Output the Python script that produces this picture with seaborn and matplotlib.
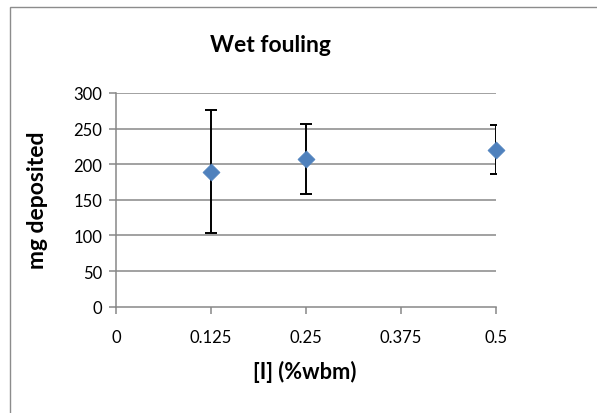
import matplotlib
matplotlib.use("Agg")
import matplotlib.pyplot as plt
import seaborn as sns
import pandas as pd
from matplotlib.patches import Rectangle

# Inhibitor concentration (%wbm), mean mass deposited (mg) and error half-width (mg)
concentration = [0.125, 0.25, 0.5]
mg_deposited = [189.5, 207.5, 220.5]
error = [86, 49, 34]

x_ticks = [0, 0.125, 0.25, 0.375, 0.5]
x_tick_labels = ["0", "0.125", "0.25", "0.375", "0.5"]
y_ticks = [0, 50, 100, 150, 200, 250, 300]

df = pd.DataFrame({"conc": concentration, "mg": mg_deposited, "err": error})

sns.set_theme(style="white")
plt.rcParams["font.family"] = ["Lato", "DejaVu Sans"]
plt.rcParams["text.color"] = "black"

fig = plt.figure(figsize=(5.97, 4.14), dpi=100)
ax = fig.add_axes([116 / 597, 1 - 307.7 / 414, (496 - 116) / 597, (307.7 - 94) / 414])

grid_col = "#878787"
for y in y_ticks[1:]:
    ax.axhline(y, color=grid_col, lw=1.1, zorder=1)

ax.errorbar(df["conc"], df["mg"], yerr=df["err"], fmt="none", ecolor="black",
            elinewidth=1.4, capsize=4.5, capthick=1.4, zorder=2)
sns.scatterplot(data=df, x="conc", y="mg", marker="D", s=75, color="#4F81BD",
                edgecolor="#4F81BD", linewidth=0.5, ax=ax, zorder=3, clip_on=False)

ax.set_xlim(0, 0.5)
ax.set_ylim(0, 300)
ax.set_xticks(x_ticks)
ax.set_xticklabels(x_tick_labels)
ax.set_yticks(y_ticks)
ax.set_xlabel("")
ax.set_ylabel("")

for side in ["top", "right"]:
    ax.spines[side].set_visible(False)
for side in ["left", "bottom"]:
    ax.spines[side].set_color(grid_col)
    ax.spines[side].set_linewidth(1.1)

ax.tick_params(axis="both", which="major", direction="out", length=5, width=1.1,
               color=grid_col, labelsize=12, labelcolor="black",
               left=True, bottom=True)
ax.tick_params(axis="y", pad=5)
ax.tick_params(axis="x", pad=11)

fig.text(270 / 597, 1 - 46 / 414, "Wet fouling", ha="center", va="center",
         fontsize=16.5, fontweight="bold", color="black")
fig.text(38 / 597, 1 - 200 / 414, "mg deposited", ha="center", va="center",
         rotation=90, fontsize=16.5, fontweight="bold", color="black")
fig.text(305 / 597, 1 - 372 / 414, "[I] (%wbm)", ha="center", va="center",
         fontsize=15.7, fontweight="bold", color="black")

# chart area frame
fig.patches.append(Rectangle((10 / 597, -0.1), 1.2, 1 - 8 / 414 + 0.1,
                             transform=fig.transFigure, fill=False,
                             edgecolor="#8c8c8c", lw=1.0))

fig.savefig("out.png", dpi=100)
